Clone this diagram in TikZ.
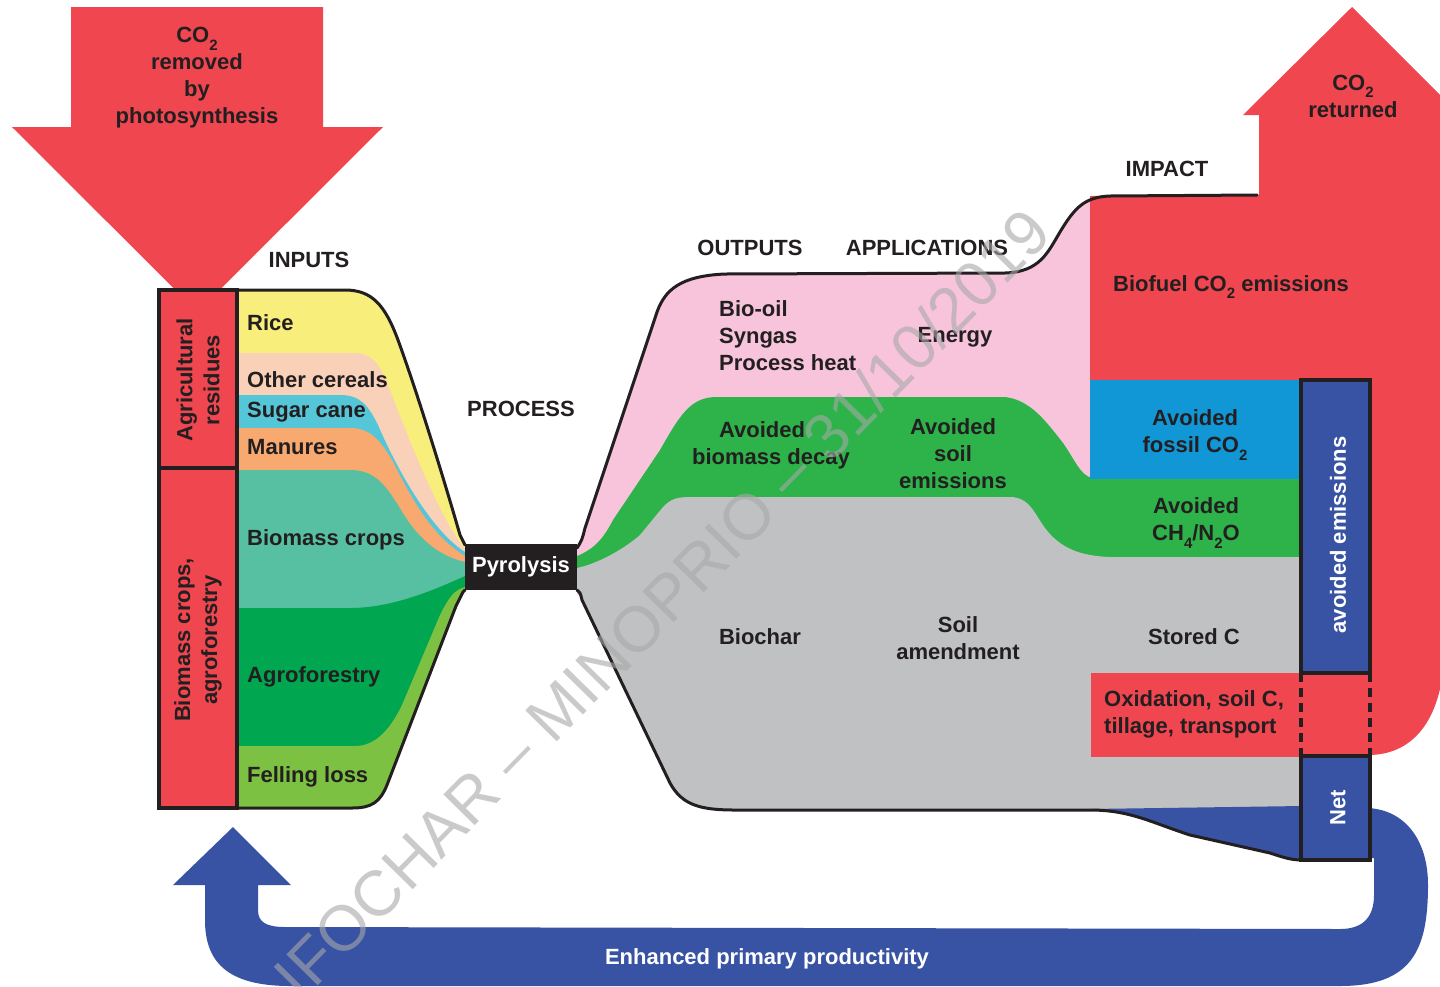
\documentclass[tikz,border=0pt]{standalone}
\usepackage{fontspec}
\setmainfont{Liberation Sans}
\definecolor{cred}{HTML}{EF4650}
\definecolor{cpink}{HTML}{F7C4DC}
\definecolor{cgreen}{HTML}{2DB34A}
\definecolor{cgray}{HTML}{C0C1C3}
\definecolor{clblue}{HTML}{1197D6}
\definecolor{cdblue}{HTML}{3853A4}
\definecolor{cyellow}{HTML}{F8EE7B}
\definecolor{cpeach}{HTML}{F9D0B8}
\definecolor{ccyan}{HTML}{55C6D8}
\definecolor{corange}{HTML}{F7A96F}
\definecolor{cteal}{HTML}{58C0A2}
\definecolor{cagro}{HTML}{00A650}
\definecolor{cfell}{HTML}{7DC143}
\definecolor{ctxt}{HTML}{231F20}
\definecolor{cwm}{HTML}{A8A8A8}
\newcommand\mysub[1]{\raisebox{-0.36em}{\fontsize{15}{15}\selectfont#1}}
\begin{document}
\begin{tikzpicture}[x=1pt,y=-1pt,
  lbl/.style={font=\fontsize{22}{27}\selectfont\bfseries, text=ctxt, inner sep=0pt, align=center},
  wlbl/.style={lbl, text=white},
  outl/.style={draw=ctxt, line width=3pt, line join=round, line cap=round},
  boxl/.style={draw=ctxt, line width=3.5pt}]
\useasboundingbox (0,0) rectangle (1440,986);
\clip (0,0) rectangle (1440,986);
\fill[white] (0,0) rectangle (1440,986);

% CO2 removed arrow
\fill[cred] (71,7) -- (323,7) -- (323,127) -- (383,127) -- (197.5,312) -- (12,127) -- (71,127) -- cycle;

% blue loop arrow
\fill[cdblue] (1368,808) .. controls (1405,810) and (1428,840) .. (1428,885)
  .. controls (1428,950) and (1412,986) .. (1340,986) -- (290,986)
  .. controls (225,986) and (205,960) .. (205,920) -- (205,885) -- (173,885) -- (233,827) -- (291,885) -- (258,885) -- (258,910)
  .. controls (258,922) and (266,927) .. (285,927) -- (1340,929)
  .. controls (1362,929) and (1374,918) .. (1374,895) -- (1374,858) -- (1368,858) -- cycle;

% input bands
\def\ret{-- (465,590) -- (463,592) .. controls (460,598) .. (456,606) -- (387,785) .. controls (380,802) and (372,808) .. (352,808) -- (237,808) -- cycle}
\fill[cyellow] (237,290) -- (345,290) .. controls (372,290) and (385,305) .. (398,340) .. controls (420,400) and (450,500) .. (460,535) .. controls (462,540) .. (465,545) \ret;
\fill[cpeach] (237,353) -- (355,353) .. controls (372,353) and (380,365) .. (388,385) .. controls (405,430) and (440,520) .. (465,549) \ret;
\fill[ccyan] (237,395) -- (340,395) .. controls (360,395) and (368,405) .. (378,425) .. controls (395,465) and (430,530) .. (465,552) \ret;
\fill[corange] (237,428) -- (350,428) .. controls (370,428) and (380,440) .. (392,460) .. controls (410,495) and (430,535) .. (465,556) \ret;
\fill[cteal] (237,470) -- (350,470) .. controls (375,470) and (385,485) .. (398,505) .. controls (415,535) and (435,555) .. (465,562) \ret;
\fill[cagro] (237,608) -- (350,608) .. controls (390,608) and (430,592) .. (465,576) \ret;
\fill[cfell] (237,746) -- (355,746) .. controls (375,746) and (390,730) .. (402,705) -- (440,615) .. controls (450,595) and (455,590) .. (465,587) \ret;
\draw[outl] (237,290) -- (345,290) .. controls (372,290) and (385,305) .. (398,340) .. controls (420,400) and (450,500) .. (460,535) .. controls (462,540) .. (465,545);
\draw[outl] (465,590) -- (463,592) .. controls (460,598) .. (456,606) -- (387,785) .. controls (380,802) and (372,808) .. (352,808) -- (237,808);

% output regions
\fill[cpink] (577,548) .. controls (582,540) .. (585,528) -- (657,312) .. controls (665,290) and (680,276) .. (725,274) -- (1005,273) .. controls (1040,272) and (1048,252) .. (1060,232) .. controls (1075,207) and (1085,197) .. (1110,196) -- (1110,600) -- (577,595) -- cycle;
\fill[cgreen] (577,556) .. controls (597,548) and (605,535) .. (613,520) -- (660,450) .. controls (680,415) and (690,398) .. (715,397) -- (1005,397) .. controls (1030,400) and (1045,420) .. (1063,443) .. controls (1075,460) and (1080,475) .. (1092,478) -- (1302,478) -- (1302,570) -- (577,580) -- cycle;
\fill[cgray] (577,568) .. controls (600,563) and (625,548) .. (640,535) -- (663,507) .. controls (670,500) and (675,497) .. (690,497) -- (1010,497) .. controls (1030,497) and (1035,515) .. (1045,528) .. controls (1060,548) and (1080,556) .. (1110,557) -- (1302,557) -- (1302,808) -- (1090,809) -- (735,810) .. controls (700,810) and (682,805) .. (670,783) -- (582,600) .. controls (580,592) .. (577,590) -- cycle;
\fill[cdblue] (1090,809) .. controls (1130,810) and (1150,822) .. (1190,835) -- (1270,853) .. controls (1285,858) and (1292,860) .. (1302,860) -- (1302,806) -- cycle;
% big red shape
\fill[cred] (1090,196) -- (1259,195) -- (1259,115) -- (1243,115) -- (1352,7) -- (1462,117) -- (1445,117) -- (1445,650) .. controls (1442,725) and (1410,754) .. (1370,755) -- (1300,755) -- (1300,380) -- (1090,380) -- cycle;
\fill[clblue] (1090,380) rectangle (1302,479);
\fill[cred] (1091,673) rectangle (1302,757);
\fill[cred] (1300,673) rectangle (1372,757);
% output outlines
\draw[outl] (577,548) .. controls (582,540) .. (585,528) -- (657,312) .. controls (665,290) and (680,276) .. (725,274) -- (1005,273) .. controls (1040,272) and (1048,252) .. (1060,232) .. controls (1075,207) and (1085,197) .. (1110,196) -- (1257,195);
\draw[outl] (577,590) .. controls (580,592) .. (582,600) -- (670,783) .. controls (682,805) and (700,810) .. (735,810) -- (1090,810) .. controls (1130,810) and (1150,822) .. (1190,835) -- (1270,853) .. controls (1285,858) and (1292,860) .. (1302,860);

% impact boxes
\filldraw[boxl, fill=cdblue] (1301,380) rectangle (1370,673);
\filldraw[boxl, fill=cdblue] (1301,756) rectangle (1370,860);
\draw[ctxt, line width=3.5pt, dash pattern=on 9pt off 6pt] (1301,673) -- (1301,756) (1370,673) -- (1370,756);

% left box
\filldraw[boxl, fill=cred] (159,290) rectangle (237,808);
\draw[boxl] (159,468) -- (237,468);

% pyrolysis
\node[fill=ctxt, minimum width=112pt, minimum height=46pt, inner sep=0pt, font=\fontsize{22}{27}\selectfont\bfseries, text=white] (pyro) at (521,567) {Pyrolysis};

% labels
\node[lbl] (co2in) at (197,78) {CO\mysub{2}\\removed\\by\\photosynthesis};
\node[lbl] (inputs) at (309,260) {INPUTS};
\node[lbl] (process) at (521,409) {PROCESS};
\node[lbl] (outputs) at (750,248) {OUTPUTS};
\node[lbl] (applic) at (927,248) {APPLICATIONS};
\node[lbl] (impact) at (1167,169) {IMPACT};
\node[lbl, anchor=west] (rice) at (247,323) {Rice};
\node[lbl, anchor=west] (cereal) at (247,380) {Other cereals};
\node[lbl, anchor=west] (sugar) at (247,412) {Sugar cane};
\node[lbl, anchor=west] (manure) at (247,447) {Manures};
\node[lbl, anchor=west] (bcrops) at (247,540) {Biomass crops};
\node[lbl, anchor=west] (agrof) at (247,677) {Agroforestry};
\node[lbl, anchor=west] (fell) at (247,777) {Felling loss};
\node[lbl, rotate=90] (agres) at (198,380) {Agricultural\\residues};
\node[lbl, rotate=90] (bcagro) at (198,640) {Biomass crops,\\agroforestry};
\node[lbl, anchor=west, align=left] (bio) at (719,336) {Bio-oil\\Syngas\\Process heat};
\node[lbl] (energy) at (955,337) {Energy};
\node[lbl] (avbio) at (771,445) {Avoided\hspace*{18pt}\\biomass decay};
\node[lbl] (avsoil) at (953,454) {Avoided\\soil\\emissions};
\node[lbl] (biochar) at (760,637) {Biochar};
\node[lbl] (soilam) at (958,638) {Soil\\amendment};
\node[lbl] (biofuel) at (1231,287) {Biofuel CO\mysub{2} emissions};
\node[lbl] (avfos) at (1195,435) {Avoided\\fossil CO\mysub{2}};
\node[lbl] (avch4) at (1196,523) {Avoided\\CH\mysub{4}/N\mysub{2}O};
\node[lbl] (stored) at (1194,637) {Stored C};
\node[lbl, anchor=west, align=left] (oxid) at (1104,714) {Oxidation, soil C,\\tillage, transport};
\node[lbl] (co2out) at (1353,96) {CO\mysub{2}\\returned};
\node[wlbl, rotate=90] (avem) at (1338,535) {avoided emissions};
\node[wlbl, rotate=90] (net) at (1338,808) {Net};
\node[wlbl] (enh) at (767,959) {Enhanced primary productivity};

% watermark
\node[text=cwm, opacity=0.6, rotate=45.5, font=\fontsize{64}{64}\selectfont, inner sep=0pt] (wm) at (662,603) {IFOCHAR – MINOPRIO – 31/10/2019};
\end{tikzpicture}
\end{document}
